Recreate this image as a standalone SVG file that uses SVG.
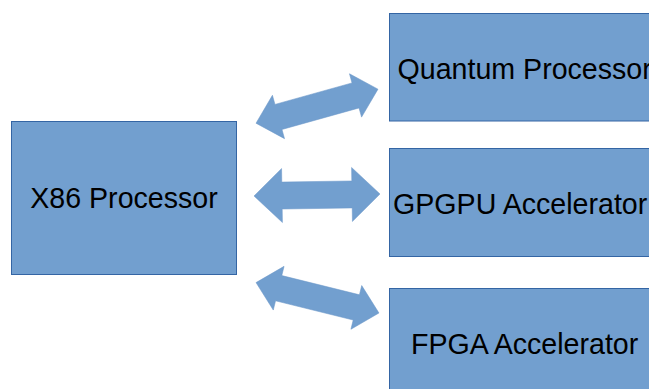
<svg xmlns="http://www.w3.org/2000/svg" width="649" height="389" viewBox="0 0 649 389">
<style>
.box{fill:#729fcf;stroke:#3465a4;stroke-width:1}
.arr{fill:#729fcf;stroke:#6a96c8;stroke-width:0.5}
.t{font-family:"Liberation Sans",Arial,sans-serif;font-size:28.6px;fill:#000}
</style>
<rect width="649" height="389" fill="#fff"/>
<g id="connectors">
<polygon class="arr" transform="translate(317,106.2) rotate(-15.6)" points="-63.3,0 -40,-22.5 -40,-13 40,-13 40,-22.5 63.3,0 40,22.5 40,13 -40,13 -40,22.5"/>
<polygon class="arr" transform="translate(317,195) rotate(-0.9)" points="-63,0 -35,-27 -35,-13.5 35,-13.5 35,-27 63,0 35,27 35,13.5 -35,13.5 -35,27"/>
<polygon class="arr" transform="translate(317.5,297.8) rotate(13.9)" points="-63.3,0 -40,-22.5 -40,-13 40,-13 40,-22.5 63.3,0 40,22.5 40,13 -40,13 -40,22.5"/>
</g>
<g id="x86">
<rect class="box" x="11.5" y="121.5" width="225" height="153"/>
<text class="t" x="124" y="207.5" text-anchor="middle">X86 Processor</text>
</g>
<g id="quantum">
<rect class="box" x="389.5" y="13.5" width="280" height="107.5"/>
<text class="t" x="397.5" y="78.5">Quantum Processor</text>
</g>
<g id="gpgpu">
<rect class="box" x="389.5" y="148.5" width="280" height="108"/>
<text class="t" x="393" y="213.5">GPGPU Accelerator</text>
</g>
<g id="fpga">
<rect class="box" x="389.5" y="288.5" width="280" height="110"/>
<text class="t" x="411" y="353.5">FPGA Accelerator</text>
</g>
</svg>
